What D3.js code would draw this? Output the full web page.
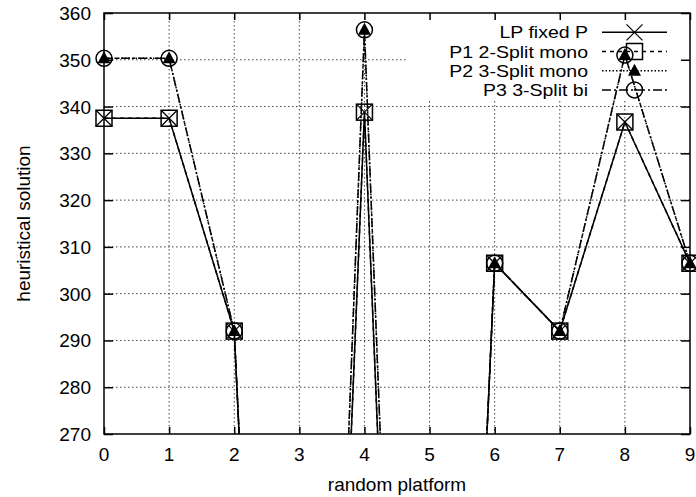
<!DOCTYPE html>
<html>
<head>
<meta charset="utf-8">
<script src="https://cdn.jsdelivr.net/npm/d3@7"></script>
<style>
  html, body { margin: 0; padding: 0; background: #fff; }
  svg { display: block; }
  text { font-family: "Liberation Sans", Arial, Helvetica, sans-serif; fill: #000; }
</style>
</head>
<body>
<svg id="chart" width="696" height="497"></svg>
<script>
// ---- data ----
const platforms = [0, 1, 2, 3, 4, 5, 6, 7, 8, 9];
const xTicks = [0, 1, 2, 3, 4, 5, 6, 7, 8, 9];
const yTicks = [270, 280, 290, 300, 310, 320, 330, 340, 350, 360];
const seriesNames = ["LP fixed P", "P1 2-Split mono", "P2 3-Split mono", "P3 3-Split bi"];
const lpFixed = [337.5, 337.5, 292, 0, 338.8, 0, 306.5, 292, 336.7, 306.5];
const p1Split2Mono = [337.5, 337.5, 292, 0, 338.8, 0, 306.5, 292, 336.7, 306.5];
const p2Split3Mono = [350.3, 350.3, 292, 0, 356.4, 0, 306.5, 292, 351.0, 306.5];
const p3Split3Bi = [350.3, 350.3, 292, 0, 356.4, 0, 306.5, 292, 351.0, 306.5];
const xLabel = "random platform";
const yLabel = "heuristical solution";

// ---- layout ----
const svg = d3.select("#chart");
const L = 104, R = 690, T = 13, B = 434;
const x = d3.scaleLinear().domain([0, 9]).range([L, R]);
const y = d3.scaleLinear().domain([270, 360]).range([B, T]);

const styles = [
  { dash: null, marker: "x" },
  { dash: "4,4", marker: "square" },
  { dash: "1.5,2", marker: "triangle" },
  { dash: "9,3,2,3", marker: "circle" }
];
const seriesData = [lpFixed, p1Split2Mono, p2Split3Mono, p3Split3Bi];

// grid
const grid = svg.append("g");
grid.selectAll("line.gy").data(yTicks.slice(1, -1)).join("line")
  .attr("x1", L).attr("x2", R).attr("y1", d => y(d)).attr("y2", d => y(d))
  .attr("stroke", "#444").attr("stroke-width", 1).attr("stroke-dasharray", "1.5,2.5");
grid.selectAll("line.gx").data(xTicks.slice(1, -1)).join("line")
  .attr("y1", T).attr("y2", B).attr("x1", d => x(d)).attr("x2", d => x(d))
  .attr("stroke", "#444").attr("stroke-width", 1).attr("stroke-dasharray", "1.5,2.5");

// key area blanking
svg.append("rect").attr("x", 406).attr("y", T + 1).attr("width", R - 406 - 1).attr("height", 100 - T)
  .attr("fill", "#fff");

// axes (frame with inward ticks via d3 axes)
const axG = svg.append("g");
axG.append("g").attr("transform", `translate(0,${B})`)
  .call(d3.axisTop(x).tickValues(xTicks).tickSize(7).tickFormat(""))
  .call(g => g.select(".domain").remove());
axG.append("g").attr("transform", `translate(0,${T})`)
  .call(d3.axisBottom(x).tickValues(xTicks).tickSize(7).tickFormat(""))
  .call(g => g.select(".domain").remove());
axG.append("g").attr("transform", `translate(${L},0)`)
  .call(d3.axisRight(y).tickValues(yTicks).tickSize(9).tickFormat(""))
  .call(g => g.select(".domain").remove());
axG.append("g").attr("transform", `translate(${R},0)`)
  .call(d3.axisLeft(y).tickValues(yTicks).tickSize(9).tickFormat(""))
  .call(g => g.select(".domain").remove());
axG.selectAll(".tick line").attr("stroke", "#000").attr("stroke-width", 1.5);

// tick labels
svg.append("g").selectAll("text").data(xTicks).join("text")
  .attr("x", d => x(d)).attr("y", 461).attr("text-anchor", "middle")
  .attr("font-size", 19).text(d => d);
svg.append("g").selectAll("text").data(yTicks).join("text")
  .attr("x", 91).attr("y", d => y(d) + 7).attr("text-anchor", "end")
  .attr("font-size", 19).text(d => d);

// axis titles
svg.append("text").attr("x", (L + R) / 2).attr("y", 491).attr("text-anchor", "middle")
  .attr("font-size", 19).text(xLabel);
svg.append("text").attr("transform", `translate(30,${(T + B) / 2}) rotate(-90)`)
  .attr("text-anchor", "middle").attr("font-size", 19).text(yLabel);

// clip
svg.append("clipPath").attr("id", "clip").append("rect")
  .attr("x", L).attr("y", T).attr("width", R - L).attr("height", B - T);

function drawMarker(g, type, cx, cy) {
  const s = 8;
  if (type === "x") {
    g.append("path").attr("d", `M${cx - s},${cy - s}L${cx + s},${cy + s}M${cx - s},${cy + s}L${cx + s},${cy - s}`)
      .attr("stroke", "#000").attr("stroke-width", 1.2).attr("fill", "none");
  } else if (type === "square") {
    g.append("rect").attr("x", cx - s).attr("y", cy - s).attr("width", 2 * s).attr("height", 2 * s)
      .attr("stroke", "#000").attr("stroke-width", 1.5).attr("fill", "none");
  } else if (type === "triangle") {
    g.append("path").attr("d", `M${cx},${cy - 7}L${cx + 6.5},${cy + 5}L${cx - 6.5},${cy + 5}Z`)
      .attr("fill", "#000");
  } else if (type === "circle") {
    g.append("circle").attr("cx", cx).attr("cy", cy).attr("r", 8)
      .attr("stroke", "#000").attr("stroke-width", 1.5).attr("fill", "none");
    g.append("circle").attr("cx", cx).attr("cy", cy).attr("r", 0.8).attr("fill", "#000");
  }
}

const line = d3.line().x((d, i) => x(platforms[i])).y(d => y(d));
const plotG = svg.append("g");
seriesData.forEach((vals, k) => {
  plotG.append("path").datum(vals).attr("d", line)
    .attr("clip-path", "url(#clip)")
    .attr("fill", "none").attr("stroke", "#000").attr("stroke-width", 1.5)
    .attr("stroke-dasharray", styles[k].dash);
  const mg = plotG.append("g");
  vals.forEach((v, i) => {
    if (v >= 270 && v <= 360) drawMarker(mg, styles[k].marker, x(platforms[i]), y(v));
  });
});

// legend
const keyRowY = [32.3, 51.5, 70.7, 89.9];
const legG = svg.append("g");
seriesNames.forEach((name, k) => {
  const ry = keyRowY[k];
  legG.append("text").attr("transform", `translate(588,${ry + 6}) scale(1.147,1)`)
    .attr("text-anchor", "end").attr("font-size", 17).text(name);
  legG.append("line").attr("x1", 602).attr("x2", 667).attr("y1", ry).attr("y2", ry)
    .attr("stroke", "#000").attr("stroke-width", 1.5).attr("stroke-dasharray", styles[k].dash);
  drawMarker(legG, styles[k].marker, 634.5, ry);
});

// frame
svg.append("rect").attr("x", L).attr("y", T).attr("width", R - L).attr("height", B - T)
  .attr("fill", "none").attr("stroke", "#000").attr("stroke-width", 1.5);
</script>
</body>
</html>
